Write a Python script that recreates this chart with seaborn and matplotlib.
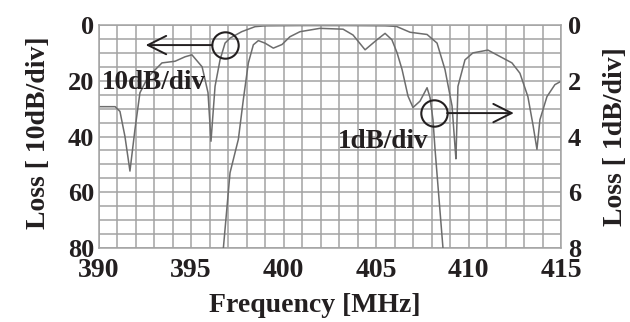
import numpy as np
import pandas as pd
import matplotlib
matplotlib.use("Agg")
import matplotlib.pyplot as plt
import seaborn as sns

# ---- data: wideband response (10 dB/div, left axis) ----
freq_wide = [390.0, 390.9, 391.16, 391.43, 391.7, 391.97, 392.24, 392.68, 393.43,
             394.14, 394.68, 395.05, 395.6, 395.92, 396.08, 396.3, 396.57, 396.84,
             397.11, 397.74, 398.46, 399.0, 401.0, 403.5, 405.5, 406.1, 406.84,
             407.76, 408.3, 408.73, 409.11, 409.27, 409.32, 409.43, 409.81, 410.24,
             411.05, 411.7, 412.35, 412.78, 413.21, 413.49, 413.7, 413.86, 414.24,
             414.67, 415.0]
loss_wide = [29.3, 29.3, 31.0, 40.0, 52.4, 37.5, 24.3, 18.6, 13.6,
             13.0, 11.4, 10.7, 15.0, 24.3, 41.7, 22.0, 12.5, 6.5,
             4.7, 2.4, 0.6, 0.3, 0.2, 0.2, 0.3, 0.5, 2.6,
             3.4, 6.5, 16.0, 29.0, 43.6, 48.0, 22.0, 12.5, 10.0,
             9.0, 11.3, 13.6, 17.3, 25.7, 36.0, 44.6, 34.0, 25.7,
             21.4, 20.2]

# ---- data: passband detail (1 dB/div, right axis) ----
freq_pass = [396.75, 397.11, 397.56, 397.83, 398.1, 398.37, 398.64, 399.0, 399.45,
             399.92, 400.35, 400.89, 401.97, 403.22, 403.76, 404.41, 405.05, 405.49,
             405.86, 406.14, 406.41, 406.73, 407.0, 407.38, 407.76, 407.92, 408.08,
             408.19, 408.62]
loss_pass = [8.0, 5.3, 4.1, 2.67, 1.36, 0.71, 0.56, 0.65, 0.83,
             0.7, 0.42, 0.24, 0.12, 0.15, 0.36, 0.89, 0.53, 0.3,
             0.53, 1.0, 1.6, 2.55, 2.96, 2.73, 2.25, 2.6, 3.4,
             4.45, 8.0]

x_ticks = [390, 395, 400, 405, 410, 415]
left_ticks = [0, 20, 40, 60, 80]
right_ticks = [0, 2, 4, 6, 8]

TXT = "#231f20"
CURVE = "#6d6d6d"
GRID = "#a3a3a3"

sns.set_theme(style="white")
plt.rcParams["font.family"] = ["Liberation Serif", "DejaVu Serif"]
plt.rcParams["font.weight"] = "bold"

fig = plt.figure(figsize=(6.3, 3.22), dpi=100)
ax = fig.add_axes([98.5 / 630, 1 - 248 / 322, 462.5 / 630, 223 / 322])

df_wide = pd.DataFrame({"freq": freq_wide, "loss": loss_wide})
df_pass = pd.DataFrame({"freq": freq_pass, "loss": loss_pass})

sns.lineplot(data=df_wide, x="freq", y="loss", ax=ax, color=CURVE, lw=1.1,
             sort=False, estimator=None)
ax.set_xlim(390, 415)
ax.set_ylim(80, 0)
ax.set_xticks(x_ticks)
ax.set_xticks(np.arange(390, 416, 1), minor=True)
ax.set_yticks(left_ticks)
ax.set_yticks(np.arange(0, 81, 5), minor=True)
ax.grid(which="both", color=GRID, lw=1.1)
ax.set_axisbelow(True)
ax.tick_params(which="both", length=0)
ax.tick_params(axis="x", labelsize=20, pad=7, labelcolor=TXT)
ax.tick_params(axis="y", labelsize=19, pad=3, labelcolor=TXT)
ax.set_xlabel("")
ax.set_ylabel("")
for s in ax.spines.values():
    s.set_color(GRID)
    s.set_linewidth(1.1)

ax2 = ax.twinx()
sns.lineplot(data=df_pass, x="freq", y="loss", ax=ax2, color=CURVE, lw=1.1,
             sort=False, estimator=None)
ax2.set_ylim(8, 0)
ax2.set_yticks(right_ticks)
ax2.grid(False)
ax2.tick_params(which="both", length=0)
ax2.tick_params(axis="y", labelsize=19, pad=5, labelcolor=TXT)
ax2.set_ylabel("")
for s in ax2.spines.values():
    s.set_visible(False)

# annotations
ax.plot([396.84], [7.2], marker="o", ms=19, mfc="none", mec=TXT, mew=1.5)
ax.annotate("", xy=(392.55, 7.2), xytext=(396.15, 7.2),
            arrowprops=dict(arrowstyle="->,head_length=1.1,head_width=0.55",
                            color=TXT, lw=1.4, shrinkA=0, shrinkB=0))
ax2.plot([408.14], [3.16], marker="o", ms=19, mfc="none", mec=TXT, mew=1.5)
ax2.annotate("", xy=(412.45, 3.16), xytext=(408.84, 3.16),
             arrowprops=dict(arrowstyle="->,head_length=1.1,head_width=0.55",
                             color=TXT, lw=1.4, shrinkA=0, shrinkB=0))
ax.text(390.2, 22.9, "10dB/div", fontsize=19.5, fontweight="bold", color=TXT,
        ha="left", va="baseline")
ax.text(402.95, 44.2, "1dB/div", fontsize=19.5, fontweight="bold", color=TXT,
        ha="left", va="baseline")

fig.text(315 / 630, 1 - 305 / 322, "Frequency [MHz]", fontsize=20,
         fontweight="bold", color=TXT, ha="center", va="center")
fig.text(39 / 630, 1 - 133 / 322, "Loss [ 10dB/div]", fontsize=20,
         fontweight="bold", color=TXT, ha="center", va="center", rotation=90)
fig.text(616 / 630, 1 - 137 / 322, "Loss [ 1dB/div]", fontsize=20,
         fontweight="bold", color=TXT, ha="center", va="center", rotation=90)

fig.savefig("out.png", dpi=100, facecolor="white")
